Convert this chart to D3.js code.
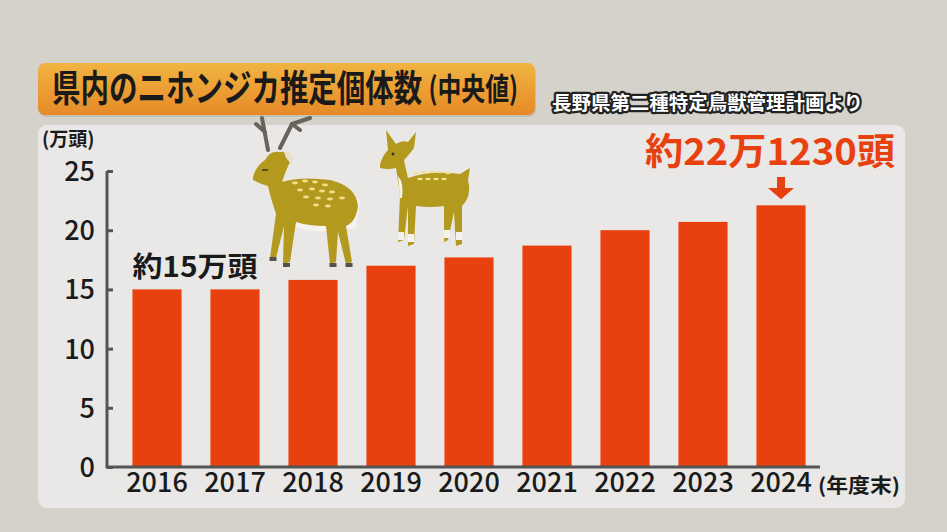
<!DOCTYPE html>
<html>
<head>
<meta charset="utf-8">
<script src="https://cdn.jsdelivr.net/npm/d3@7"></script>
<style>
  body { margin: 0; background: #d5d2cb; }
  svg { display: block; font-family: "Noto Sans CJK JP", "Noto Sans", sans-serif; }
</style>
</head>
<body>
<svg id="chart" width="947" height="532"></svg>
<script>
// data (万頭, 年度末)
const years = ["2016", "2017", "2018", "2019", "2020", "2021", "2022", "2023", "2024"];
const deer = [15.0, 15.0, 15.8, 17.0, 17.7, 18.7, 20.0, 20.7, 22.1];
const yTicks = [0, 5, 10, 15, 20, 25];

const svg = d3.select('#chart');
const red = '#e8400f';

// background + panel
svg.append('rect').attr('width', 947).attr('height', 532).attr('fill', '#d5d2cb');
svg.append('rect')
  .attr('x', 38).attr('y', 125).attr('width', 867).attr('height', 383)
  .attr('rx', 9).attr('fill', '#e9e8e6');

// title box
const defs = svg.append('defs');
const grad = defs.append('linearGradient').attr('id', 'tg').attr('x1', 0).attr('y1', 0).attr('x2', 0).attr('y2', 1);
grad.append('stop').attr('offset', '0%').attr('stop-color', '#f1b442');
grad.append('stop').attr('offset', '100%').attr('stop-color', '#e68a27');
svg.append('rect')
  .attr('x', 39).attr('y', 65).attr('width', 497).attr('height', 52)
  .attr('rx', 7).attr('fill', '#b9b4aa').attr('opacity', 0.6);
svg.append('rect')
  .attr('x', 38).attr('y', 63).attr('width', 497).attr('height', 52)
  .attr('rx', 7).attr('fill', 'url(#tg)');
const title = svg.append('text')
  .attr('transform', 'translate(52,102) scale(0.77,1)')
  .attr('font-weight', 700).attr('fill', '#1a1a1a');
title.append('tspan').attr('font-size', 37).text('県内のニホンジカ推定個体数');
title.append('tspan').attr('font-size', 31).attr('dx', 8).attr('dy', -2).text('(中央値)');

// source
svg.append('text')
  .attr('x', 552).attr('y', 110)
  .attr('font-size', 19).attr('font-weight', 700)
  .attr('fill', '#fff').attr('stroke', '#222').attr('stroke-width', 4.5)
  .attr('paint-order', 'stroke').attr('stroke-linejoin', 'round')
  .attr('textLength', 311).attr('lengthAdjust', 'spacingAndGlyphs')
  .text('長野県第二種特定鳥獣管理計画より');

// scales
const x = d3.scaleBand().domain(years).range([118, 820]).paddingInner(0.37).paddingOuter(0.185);
const y = d3.scaleLinear().domain([0, 25]).range([467, 171]);
const axisX = 107;

// deer illustrations (decoration)
function stag(g) {
  const col = '#b39a1e';
  g.append('path').attr('d', 'M268,150 L262,118 M265,132 L256,124 M280,148 L292,124 L310,118 M292,124 L300,130')
    .attr('stroke', '#66625c').attr('stroke-width', 4).attr('fill', 'none').attr('stroke-linecap', 'round');
  g.append('path').attr('fill', '#f4f3f0')
    .attr('d', 'M284,196 Q320,186 360,200 L356,228 Q320,236 292,226 Z');
  g.append('path').attr('fill', col)
    .attr('d', 'M253,177 Q256,166 265,160 Q270,150 280,152 Q292,150 290,162 Q286,170 282,182 Q300,176 330,180 Q356,186 358,206 Q356,222 346,226 L352,262 L346,264 L338,232 L336,262 L330,264 L326,226 Q308,226 296,222 L290,262 L283,264 L284,226 L276,258 L270,258 L276,214 Q270,196 268,186 Q260,184 253,180 Z');
  g.append('path').attr('fill', '#e7e0cc').attr('d', 'M284,152 Q296,150 292,164 Q286,160 284,152 Z');
  const spots = [[295,183],[305,181],[315,182],[325,185],[300,190],[312,189],[322,191],[332,192],[306,197],[318,198],[330,199],[342,198],[316,205],[328,206]];
  g.selectAll('.s1').data(spots).enter().append('ellipse')
    .attr('cx', d => d[0]).attr('cy', d => d[1]).attr('rx', 3).attr('ry', 1.4).attr('fill', '#f3de8a');
  g.append('path').attr('d', 'M262,170 L268,170').attr('stroke', '#3a3020').attr('stroke-width', 1.5);
  g.selectAll('.h1').data([[273,259],[286.5,265],[333,265],[349,265]]).enter().append('rect')
    .attr('x', d => d[0] - 3.5).attr('y', d => d[1] - 2).attr('width', 7).attr('height', 4).attr('fill', '#55524c');
}
function doe(g) {
  const col = '#b39a1e';
  g.append('path').attr('fill', col)
    .attr('d', 'M380,165 Q382,156 388,150 L386,130 L396,144 Q402,140 408,142 L416,132 L414,148 Q408,156 404,160 Q406,170 408,178 Q430,170 460,174 L470,168 L468,180 Q472,196 462,206 L462,244 L456,246 L454,212 L448,240 L444,242 L444,206 Q430,208 416,206 L414,244 L408,246 L408,206 L404,240 L398,242 L400,196 Q398,180 396,168 Q388,170 380,168 Z');
  g.append('path').attr('fill', '#f4f2ec').attr('d', 'M398,176 Q404,182 402,198 L400,198 Z');
  g.selectAll('.w2').data([[401,232],[411,234],[447,230],[459,232]]).enter().append('rect')
    .attr('x', d => d[0] - 3).attr('y', d => d[1]).attr('width', 6).attr('height', 8).attr('fill', '#f4f2ec');
  const spots = [[416,173],[424,172],[432,172],[440,172],[448,173],[420,179],[428,179],[436,179],[444,179]];
  g.selectAll('.s2').data(spots).enter().append('ellipse')
    .attr('cx', d => d[0]).attr('cy', d => d[1]).attr('rx', 2.8).attr('ry', 1.3).attr('fill', '#f3de8a');
  g.append('circle').attr('cx', 393).attr('cy', 154).attr('r', 1.5).attr('fill', '#3a3020');
}
stag(svg.append('g'));
doe(svg.append('g'));

// bars
svg.selectAll('.bar').data(years).enter().append('rect')
  .attr('class', 'bar')
  .attr('x', d => x(d))
  .attr('y', (d, i) => y(deer[i]))
  .attr('width', x.bandwidth())
  .attr('height', (d, i) => y(0) - y(deer[i]))
  .attr('fill', red);

// y axis
const gy = svg.append('g').attr('transform', `translate(${axisX},0)`)
  .call(d3.axisLeft(y).tickValues(yTicks).tickSizeInner(-6).tickSizeOuter(0).tickPadding(12));
gy.select('.domain').remove();
gy.selectAll('.tick line').attr('stroke', '#555').attr('stroke-width', 3);
gy.selectAll('.tick text').attr('font-size', 27).attr('fill', '#1a1a1a')
  .attr('font-family', '"Noto Sans CJK JP", sans-serif').attr('font-weight', 500).attr('dy', '0.35em');

// x axis
const gx = svg.append('g').attr('transform', `translate(0,${y(0)})`)
  .call(d3.axisBottom(x).tickSize(0).tickPadding(6));
gx.select('.domain').remove();
gx.selectAll('.tick text').attr('font-size', 27).attr('fill', '#1a1a1a')
  .attr('font-family', '"Noto Sans CJK JP", sans-serif').attr('font-weight', 500);

// axis lines
svg.append('path')
  .attr('d', `M${axisX},${y(25)} L${axisX},${y(0)} L${x.range()[1]},${y(0)}`)
  .attr('fill', 'none').attr('stroke', '#555').attr('stroke-width', 3);

// labels
svg.append('text').attr('x', 42).attr('y', 146)
  .attr('font-size', 19).attr('font-weight', 700).attr('fill', '#1a1a1a')
  .text('(万頭)');
svg.append('text').attr('x', 818).attr('y', 493)
  .attr('font-size', 20).attr('font-weight', 700).attr('fill', '#1a1a1a')
  .attr('textLength', 82).attr('lengthAdjust', 'spacingAndGlyphs')
  .text('(年度末)');

// annotations
svg.append('text')
  .attr('x', x(years[0])).attr('y', y(deer[0]) - 12)
  .attr('font-size', 28).attr('font-weight', 700).attr('fill', '#1a1a1a')
  .attr('textLength', 125).attr('lengthAdjust', 'spacingAndGlyphs')
  .text('約15万頭');

const lastX = x(years[8]) + x.bandwidth() / 2;
svg.append('text')
  .attr('x', 645).attr('y', 165)
  .attr('font-size', 37).attr('font-weight', 700).attr('fill', red)
  .attr('textLength', 250).attr('lengthAdjust', 'spacingAndGlyphs')
  .text('約22万1230頭');
svg.append('path')
  .attr('d', `M${lastX - 4},177 L${lastX + 4},177 L${lastX + 4},188 L${lastX + 13},188 L${lastX},${y(deer[8]) - 6} L${lastX - 13},188 L${lastX - 4},188 Z`)
  .attr('fill', red);
</script>
</body>
</html>
